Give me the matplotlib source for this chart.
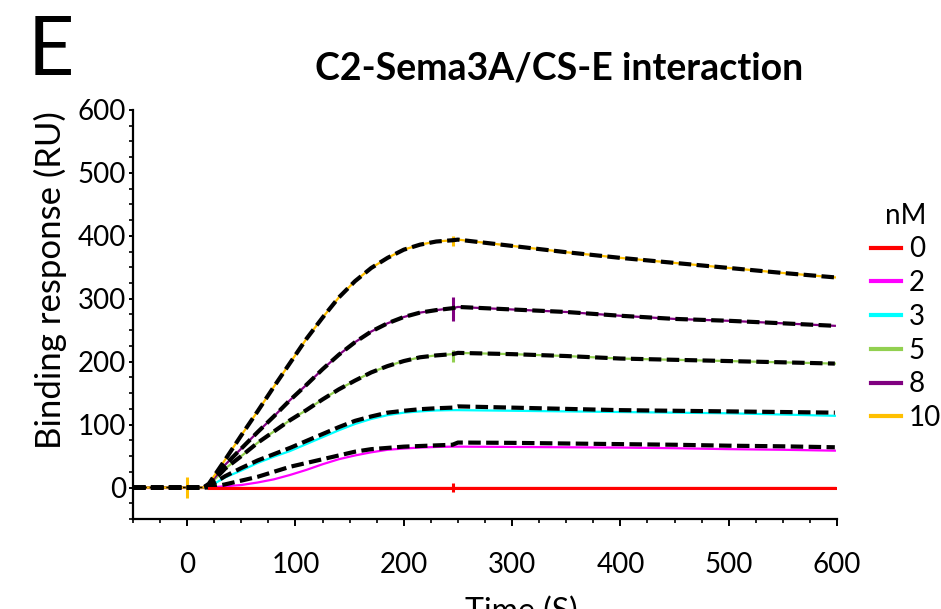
import matplotlib
matplotlib.use('Agg')
import matplotlib.pyplot as plt
from matplotlib.ticker import MultipleLocator

# --- data (time in s, response in RU)
time = [-50, 0, 15, 20, 35, 50, 65, 80, 95, 110, 125, 140, 155, 170, 185, 200,
        215, 230, 245, 250, 300, 350, 400, 450, 500, 550, 598]

conc_labels = ['0', '2', '3', '5', '8', '10']

resp_0 = [0, 0, 0, 0, 0, 0, 0, 0, 0, 0, 0, 0, 0, 0, 0, 0,
          0, 0, 0, 0, 0, 0, 0, 0, 0, 0, 0]
resp_2 = [0, 0, 0, 0, 2, 4, 8, 13, 20, 28, 37, 45, 51, 56, 60, 62,
          63.5, 64.5, 65, 65, 64.5, 64, 63.5, 62.5, 61, 60, 58.6]
resp_3 = [0, 0, 0, 1, 16, 27, 39, 49, 58, 69, 80, 91, 101, 109, 115, 119,
          121, 122.5, 123, 123, 122, 121, 120, 119, 118, 116, 114]
resp_5 = [0, 0, 0, 3, 30, 50, 71, 89, 107, 123, 140, 156, 170, 183, 193, 201,
          207, 210, 212, 214, 212, 209, 205, 203, 201, 199, 197]
resp_8 = [0, 0, 0, 4, 36, 62, 88, 113, 139, 163, 188, 211, 231, 248, 261, 271,
          278, 282, 285, 287, 283, 279, 273, 268, 265, 261, 257]
resp_10 = [0, 0, 0, 6, 44, 83, 121, 160, 198, 236, 270, 302, 328, 349, 365, 378,
           386, 391, 393, 394, 384, 374, 365, 357, 349, 341, 334]

# fitted curves (only the 2 and 3 nM fits sit visibly off the data)
fit_0 = [0, 0, 0, -1, -1, -1, -1, -1, -1, -1, -1, -1, -1, -1, -1, -1,
         -1, -1, -1, -1, -1, -1, -1, -1, -1, -1, -1]
fit_2 = [0, 0, 0, 0, 5, 11, 17, 25, 33, 39, 45, 51, 57, 61, 63, 65,
         66, 67, 68, 71.5, 71, 70, 69, 68, 66.5, 65.5, 64]
fit_3 = [0, 0, 0, 2, 18, 31, 43, 53, 63, 74, 85, 96, 106, 113, 119, 122,
         124.5, 126, 127, 129, 127, 125, 123, 122, 121, 120, 119]

# injection spikes
spike_t = [0, 245, 245, 245, 245]
spike_lo = [-16, 384, 264, 200, -7]
spike_hi = [16, 399, 303, 219, 7]
spike_series = ['10', '10', '8', '5', '0']

colors = {'0': '#FF0000', '2': '#FF00FF', '3': '#00FFFF',
          '5': '#92D050', '8': '#800080', '10': '#FFC000'}

data = {'0': resp_0, '2': resp_2, '3': resp_3, '5': resp_5, '8': resp_8, '10': resp_10}
fits = {'0': fit_0, '2': fit_2, '3': fit_3, '5': resp_5, '8': resp_8, '10': resp_10}

FONT = 'Lato'
plt.rcParams['font.family'] = [FONT, 'DejaVu Sans']

fig = plt.figure(figsize=(9.41, 6.09), dpi=100)
fig.patch.set_facecolor('white')
ax = fig.add_axes([133 / 941, 1 - 519 / 609, 704 / 941, 409 / 609])

for k in conc_labels:
    ax.plot(time, data[k], color=colors[k], lw=1.6, zorder=2)
for t, lo, hi, k in zip(spike_t, spike_lo, spike_hi, spike_series):
    ax.vlines(t, lo, hi, color=colors[k], lw=2.2, zorder=2)

# dashed fits on top
for k in conc_labels:
    if k == '0':
        ax.plot(time, fits[k], color='black', lw=1.0, dashes=(2, 2), zorder=3)
    else:
        ax.plot(time, fits[k], color='black', lw=3.0, dashes=(3.0, 1.3), zorder=3)
ax.plot(time[3:], resp_0[3:], color=colors['0'], lw=2.2, zorder=4)

ax.set_xlim(-50, 600)
ax.set_ylim(-50, 600)
ax.xaxis.set_minor_locator(MultipleLocator(25))
ax.yaxis.set_minor_locator(MultipleLocator(25))
ax.set_xticks([0, 100, 200, 300, 400, 500, 600])
ax.set_yticks([0, 100, 200, 300, 400, 500, 600])

for s in ['top', 'right']:
    ax.spines[s].set_visible(False)
for s in ['left', 'bottom']:
    ax.spines[s].set_linewidth(1.6)
    ax.spines[s].set_color('black')

ax.tick_params(axis='x', which='major', direction='out', length=5, width=1.4,
               labelsize=20, pad=19)
ax.tick_params(axis='x', which='minor', direction='out', length=3, width=1.2)
ax.tick_params(axis='y', which='major', direction='out', length=3, width=1.4,
               labelsize=20, pad=2)
ax.tick_params(axis='y', which='minor', direction='out', length=3, width=1.2)

fig.text(50 / 941, 1 - 280 / 609, 'Binding response (RU)', fontsize=25,
         rotation=90, ha='center', va='center')
fig.text(521 / 941, 1 - 597 / 609, 'Time (S)', fontsize=23, ha='center', va='top')

fig.text(559 / 941, 1 - 68 / 609, 'C2-Sema3A/CS-E interaction', fontsize=27,
         fontweight='bold', ha='center', va='center')
fig.text(28 / 941, 1 - 75 / 609, 'E', fontsize=58, ha='left', va='baseline')

handles = [plt.Line2D([0], [0], color=colors[k], lw=3) for k in conc_labels]
leg = ax.legend(handles, conc_labels, title='nM', loc='upper left',
                bbox_to_anchor=(858 / 941, 1 - 190 / 609), bbox_transform=fig.transFigure,
                frameon=False, fontsize=20, title_fontsize=20, handlelength=1.08,
                handletextpad=0.3, labelspacing=0.28, borderaxespad=0, borderpad=0.45)

fig.savefig('out.png', dpi=100)
